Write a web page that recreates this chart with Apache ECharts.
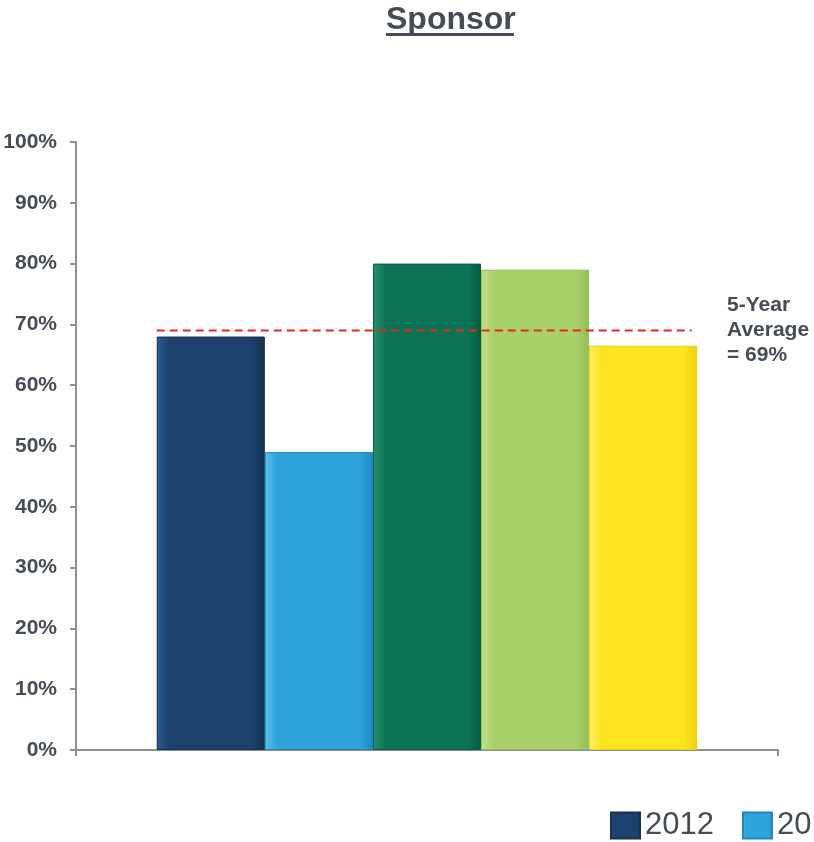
<!DOCTYPE html>
<html>
<head>
<meta charset="utf-8">
<script src="https://cdn.jsdelivr.net/npm/echarts@6/dist/echarts.min.js"></script>
<style>
  html, body { margin: 0; padding: 0; background: #ffffff; }
  #chart { width: 814px; height: 842px; }
</style>
</head>
<body>
<div id="chart"></div>
<script>
// Sponsor share by year, with the five-year average reference line
const years = ['2012', '2013', '2014', '2015', '2016'];
const sponsorPct = [68, 49, 80, 79, 66.5];
const fiveYearAverage = 69;
const averageSpan = [0.115, 0.877]; // start/end of the average line along the plot width
const yearColors = ['#1c416d', '#2fa2dc', '#0b7356', '#a9d06b', '#fde21f'];
const yearEdge = ['#2b5b8e', '#5cc0ea', '#2a8f70', '#c3df8e', '#fff06a'];
const yearShade = ['#15314f', '#1f87bd', '#075a42', '#93bd55', '#f0cf10'];

const FONT = 'Liberation Sans, Arial, Helvetica, sans-serif';
const TEXT = '#454c55';

const chart = echarts.init(document.getElementById('chart'), null, { renderer: 'canvas' });

const barSeries = years.map((y, i) => ({
  name: y,
  type: 'bar',
  xAxisIndex: 0,
  yAxisIndex: 0,
  barGap: '0%',
  barCategoryGap: '23%',
  data: [sponsorPct[i]],
  itemStyle: {
    color: new echarts.graphic.LinearGradient(0, 0, 1, 0, [
      { offset: 0, color: yearEdge[i] },
      { offset: 0.12, color: yearColors[i] },
      { offset: 0.88, color: yearColors[i] },
      { offset: 1, color: yearShade[i] }
    ]),
    borderColor: yearShade[i],
    borderWidth: 1
  },
  emphasis: { disabled: true }
}));

const option = {
  animation: false,
  backgroundColor: '#ffffff',
  textStyle: { fontFamily: FONT },
  title: {
    text: 'Sponsor',
    left: 386,
    top: 4,
    padding: 0,
    textStyle: { fontFamily: FONT, fontSize: 32, fontWeight: 'bold', color: TEXT }
  },
  graphic: [
    {
      type: 'rect',
      shape: { x: 386, y: 33, width: 128, height: 3 },
      style: { fill: TEXT },
      silent: true
    },
    {
      type: 'text',
      left: 727,
      top: 293,
      style: {
        text: '5-Year\nAverage\n= ' + fiveYearAverage + '%',
        font: 'bold 21px ' + FONT,
        fill: TEXT,
        lineHeight: 25
      },
      silent: true
    }
  ],
  legend: {
    data: years,
    left: 610,
    top: 810,
    padding: 0,
    width: 1200,
    orient: 'horizontal',
    icon: 'rect',
    itemWidth: 29,
    itemHeight: 26,
    itemGap: 28,
    textStyle: { fontFamily: FONT, fontSize: 31, color: TEXT }
  },
  grid: { left: 76, right: 36, top: 142, bottom: 92, containLabel: false },
  xAxis: [
    {
      type: 'category',
      data: ['Sponsor'],
      boundaryGap: true,
      axisLine: { show: true, lineStyle: { color: '#8c8f94', width: 2 } },
      axisTick: { show: true, length: 6, lineStyle: { color: '#8c8f94', width: 2 } },
      axisLabel: { show: false },
      splitLine: { show: false }
    },
    {
      type: 'value',
      min: 0,
      max: 1,
      show: false
    }
  ],
  yAxis: {
    type: 'value',
    min: 0,
    max: 100,
    interval: 10,
    axisLine: { show: true, lineStyle: { color: '#8c8f94', width: 2 } },
    axisTick: { show: true, length: 6, lineStyle: { color: '#8c8f94', width: 2 } },
    axisLabel: {
      formatter: '{value}%',
      margin: 19,
      fontFamily: FONT,
      fontSize: 21,
      fontWeight: 'bold',
      color: TEXT
    },
    splitLine: { show: false }
  },
  series: barSeries.concat([
    {
      name: 'average',
      type: 'line',
      xAxisIndex: 1,
      yAxisIndex: 0,
      data: [[averageSpan[0], fiveYearAverage], [averageSpan[1], fiveYearAverage]],
      symbol: 'none',
      lineStyle: { color: '#e8262a', width: 2, type: [8, 5] },
      z: 5,
      silent: true
    }
  ])
};

chart.setOption(option);
</script>
</body>
</html>
